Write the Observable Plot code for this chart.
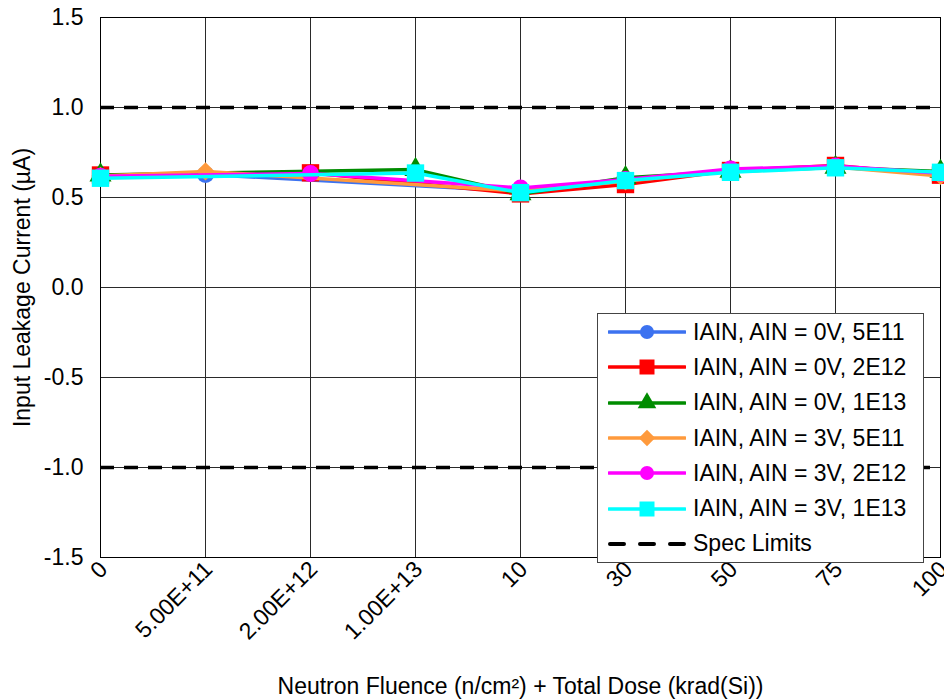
<!DOCTYPE html>
<html>
<head>
<meta charset="utf-8">
<script src="https://cdn.jsdelivr.net/npm/d3@7"></script>
<script src="https://cdn.jsdelivr.net/npm/@observablehq/plot@0.6"></script>
<style>
  html, body { margin: 0; padding: 0; background: #fff; }
  #wrap { position: relative; width: 944px; height: 699px; overflow: hidden;
          font-family: "Liberation Sans", Arial, sans-serif; color: #000; }
  #legend { position: absolute; left: 597px; top: 313px; width: 327px; height: 250px;
            box-sizing: border-box; border: 1px solid #444; background: #fff; padding-top: 0.5px; }
  #legend .row { height: 35.3px; display: flex; align-items: center; font-size: 23px; line-height: 1; }
  #legend svg { display: block; margin-left: 10px; margin-right: 7px; }
</style>
</head>
<body>
<div id="wrap"></div>
<script>
// Categories along the x axis: neutron fluence steps followed by total-dose steps
const categories = ["0", "5.00E+11", "2.00E+12", "1.00E+13", "10", "30", "50", "75", "100"];
const yTicks = [-1.5, -1.0, -0.5, 0.0, 0.5, 1.0, 1.5];
const specLimits = [-1.0, 1.0];

// Input leakage current (µA); null where a sample was not measured at that fluence
const ain0v5e11 = [0.620, 0.628, null, null, 0.535, 0.590, 0.650, 0.670, 0.630];
const ain0v2e12 = [0.625, null, 0.637, null, 0.520, 0.572, 0.650, 0.678, 0.624];
const ain0v1e13 = [0.625, null, null, 0.655, 0.520, 0.610, 0.645, 0.667, 0.645];
const ain3v5e11 = [0.620, 0.645, null, null, 0.535, 0.590, 0.650, 0.670, 0.620];
const ain3v2e12 = [0.618, null, 0.633, null, 0.553, 0.600, 0.658, 0.675, 0.635];
const ain3v1e13 = [0.607, null, null, 0.636, 0.527, 0.594, 0.640, 0.665, 0.640];

const seriesNames = [
  "IAIN, AIN = 0V, 5E11", "IAIN, AIN = 0V, 2E12", "IAIN, AIN = 0V, 1E13",
  "IAIN, AIN = 3V, 5E11", "IAIN, AIN = 3V, 2E12", "IAIN, AIN = 3V, 1E13"
];
const seriesValues = [ain0v5e11, ain0v2e12, ain0v1e13, ain3v5e11, ain3v2e12, ain3v1e13];
const seriesColors = ["#3c72f0", "#ff0000", "#008c00", "#ff9a3c", "#ff00ff", "#00ffff"];
const seriesSymbols = ["circle", "square", "triangle", "diamond2", "circle", "square"];
const symbolRadius = {circle: 8.5, square: 9.8, triangle: 8.2, diamond2: 8.3};

const xTitle = "Neutron Fluence (n/cm²) + Total Dose (krad(Si))";
const yTitle = "Input Leakage Current (µA)";
const specName = "Spec Limits";

// Long-format rows, skipping unmeasured points so each line bridges the gaps
const rows = [];
seriesNames.forEach((name, s) => {
  seriesValues[s].forEach((v, i) => {
    if (v != null) rows.push({series: name, cat: categories[i], value: v});
  });
});

const seriesMarks = seriesNames.flatMap((name, s) => {
  const data = rows.filter(d => d.series === name);
  const sym = seriesSymbols[s];
  return [
    Plot.line(data, {x: "cat", y: "value", stroke: seriesColors[s], strokeWidth: 3.5,
                     strokeLinejoin: "round", strokeLinecap: "round"}),
    Plot.dot(data, {x: "cat", y: "value", symbol: () => sym, fill: seriesColors[s],
                    r: symbolRadius[sym], stroke: "none"})
  ];
});

const font = "'Liberation Sans', Arial, sans-serif";
const fs = 23;

const chart = Plot.plot({
  width: 944,
  height: 699,
  marginLeft: 100,
  marginRight: 4,
  marginTop: 17,
  marginBottom: 142,
  style: {fontFamily: font, fontSize: fs + "px", background: "#fff", color: "#000", overflow: "visible"},
  x: {type: "point", domain: categories, padding: 0, axis: null},
  y: {type: "linear", domain: [-1.5, 1.5], axis: null},
  symbol: {type: "identity"},
  marks: [
    Plot.ruleX(categories, {stroke: "#2a2a2a", strokeWidth: 1}),
    Plot.ruleY(yTicks, {stroke: "#2a2a2a", strokeWidth: 1}),
    Plot.frame({stroke: "#000", strokeWidth: 1}),
    Plot.ruleY(specLimits, {stroke: "#000", strokeWidth: 3.5, strokeDasharray: "14,10"}),
    ...seriesMarks,
    // y tick labels
    Plot.text(yTicks, {y: d => d, text: d => d.toFixed(1), frameAnchor: "left",
                       textAnchor: "end", dx: -17, fontSize: fs, fill: "#000"}),
    // x tick labels, rotated
    Plot.text(categories, {x: d => d, text: d => d, frameAnchor: "bottom", rotate: -45,
                           textAnchor: "end", lineAnchor: "middle", dx: 3, dy: 8,
                           fontSize: fs, fill: "#000"}),
    // axis titles
    Plot.text([xTitle], {frameAnchor: "bottom", textAnchor: "middle", dy: 129,
                         lineAnchor: "middle", fontSize: fs, fill: "#000"}),
    Plot.text([yTitle], {frameAnchor: "left", textAnchor: "middle", dx: -78, rotate: -90,
                         lineAnchor: "middle", fontSize: fs, fill: "#000"})
  ]
});

const wrap = document.getElementById("wrap");
wrap.appendChild(chart);

// Legend box drawn over the lower right of the plot area
const legend = document.createElement("div");
legend.id = "legend";
const ns = "http://www.w3.org/2000/svg";
const legendSymbols = {
  circle: d3.symbol(d3.symbolCircle, Math.PI * 7 * 7)(),
  square: d3.symbol(d3.symbolSquare, 15 * 15)(),
  triangle: d3.symbol(d3.symbolTriangle, 150)(),
  diamond2: d3.symbol(d3.symbolDiamond2, 170)()
};
function legendRow(label, drawSwatch) {
  const row = document.createElement("div");
  row.className = "row";
  const svg = document.createElementNS(ns, "svg");
  svg.setAttribute("width", 78);
  svg.setAttribute("height", 24);
  drawSwatch(svg);
  const span = document.createElement("span");
  span.textContent = label;
  row.appendChild(svg);
  row.appendChild(span);
  legend.appendChild(row);
}
seriesNames.forEach((name, s) => {
  legendRow(name, svg => {
    const line = document.createElementNS(ns, "line");
    line.setAttribute("x1", 1); line.setAttribute("x2", 77);
    line.setAttribute("y1", 12); line.setAttribute("y2", 12);
    line.setAttribute("stroke", seriesColors[s]);
    line.setAttribute("stroke-width", 3.5);
    line.setAttribute("stroke-linecap", "round");
    svg.appendChild(line);
    const p = document.createElementNS(ns, "path");
    p.setAttribute("d", legendSymbols[seriesSymbols[s]]);
    p.setAttribute("transform", "translate(39,12)");
    p.setAttribute("fill", seriesColors[s]);
    svg.appendChild(p);
  });
});
legendRow(specName, svg => {
  const line = document.createElementNS(ns, "line");
  line.setAttribute("x1", 2); line.setAttribute("x2", 77);
  line.setAttribute("y1", 12); line.setAttribute("y2", 12);
  line.setAttribute("stroke", "#000");
  line.setAttribute("stroke-width", 4);
  line.setAttribute("stroke-dasharray", "14,16");
  line.setAttribute("stroke-linecap", "round");
  svg.appendChild(line);
});
wrap.appendChild(legend);
</script>
</body>
</html>
